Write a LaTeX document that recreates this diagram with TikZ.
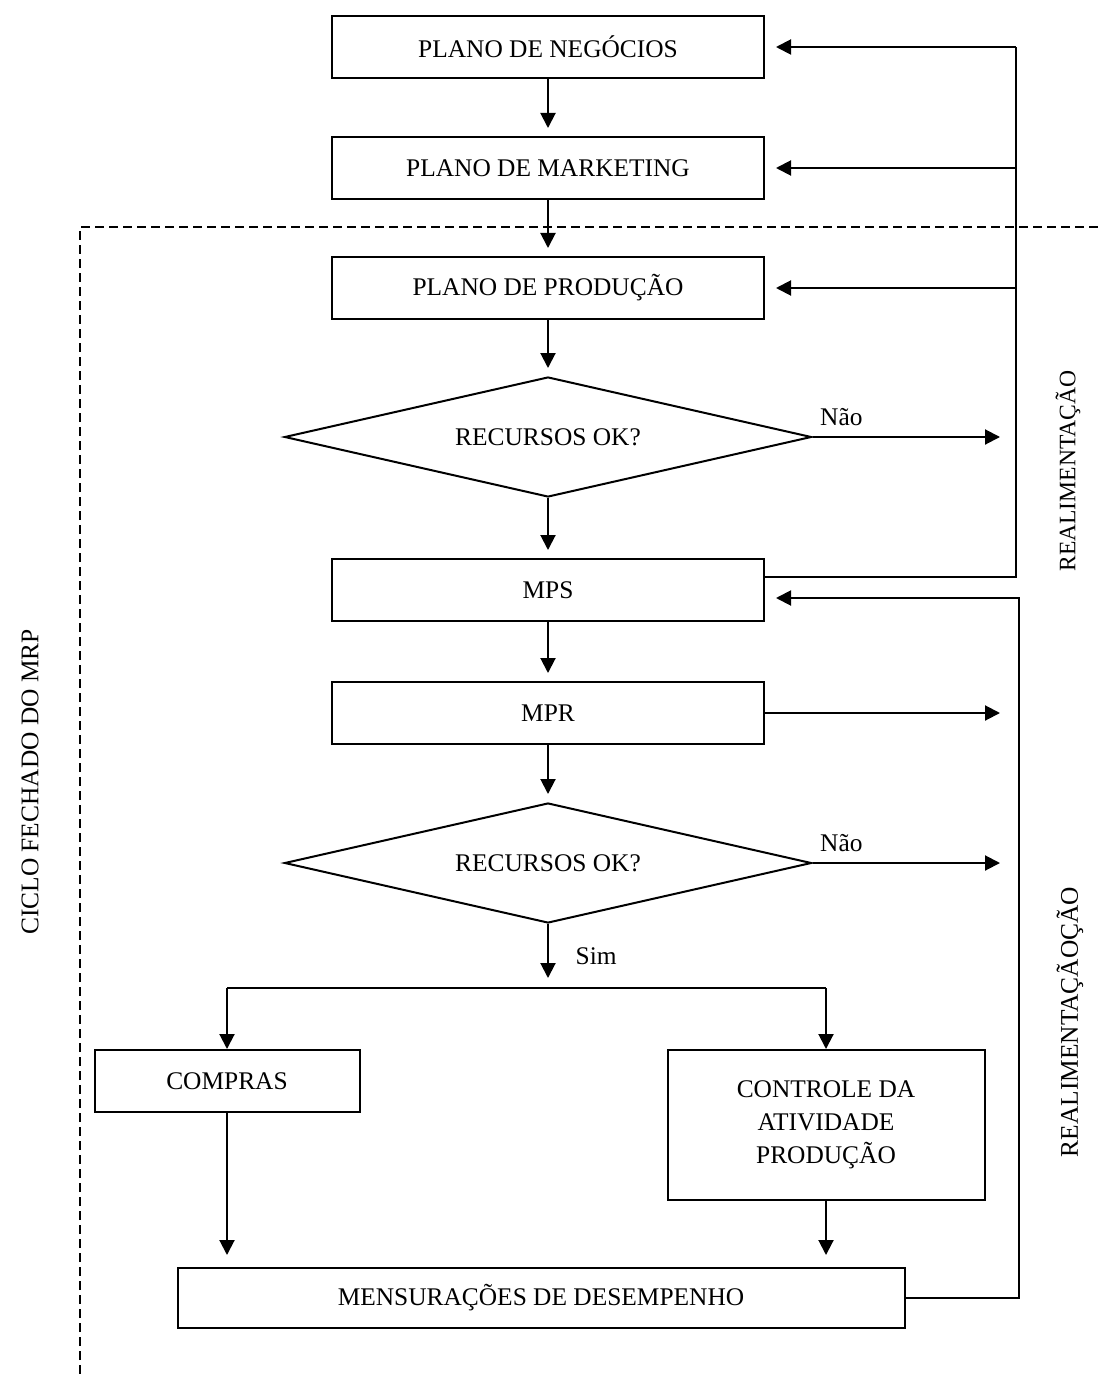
\documentclass[tikz,border=0pt]{standalone}
\usepackage{fontspec}
\setmainfont{Liberation Serif}
\usetikzlibrary{shapes.geometric,arrows.meta}

\begin{document}
\begin{tikzpicture}[x=0.5pt,y=-0.5pt, font=\fontsize{12.7}{16.5}\selectfont] % coordenadas em pixels da figura
\tikzstyle{mybox} = [draw, line width=1pt, minimum width=216pt, minimum height=31pt, inner sep=0pt, align=center] % caixa de etapa
\tikzstyle{mydiamond} = [draw, line width=1pt, diamond, aspect=4.4, minimum width=263.5pt, minimum height=60pt, inner sep=0pt] % decisao
\tikzstyle{myarrow} = [line width=1pt, -{Triangle[length=7.5pt, width=7.5pt]}, shorten >=4pt] % seta
\tikzstyle{myline} = [line width=1pt] % linha simples
\tikzstyle{mydash} = [line width=0.75pt, dash pattern=on 4.5pt off 2.5pt] % limite do ciclo
\useasboundingbox (0,0) rectangle (1101,1374);
% etapas principais
\node[mybox] (negocios) at (548,47) {PLANO DE NEGÓCIOS};
\node[mybox] (marketing) at (548,168) {PLANO DE MARKETING};
\node[mybox] (producao) at (548,288) {PLANO DE PRODUÇÃO};
\node[mydiamond] (rec1) at (548,437) {RECURSOS OK?};
\node[mybox] (mps) at (548,590) {MPS};
\node[mybox] (mpr) at (548,713) {MPR};
\node[mydiamond] (rec2) at (548,863) {RECURSOS OK?};
\node[mybox, minimum width=132.5pt] (compras) at (227,1081) {COMPRAS};
\node[mybox, minimum width=158.5pt, minimum height=75pt] (controle) at (826,1125) {CONTROLE DA\\ATIVIDADE\\PRODUÇÃO};
\node[mybox, minimum width=363.5pt, minimum height=30pt] (mensur) at (541,1298) {MENSURAÇÕES DE DESEMPENHO};
% textos laterais
\node[rotate=90] (ciclo) at (30,782) {CICLO FECHADO DO MRP};
\node[rotate=90, font=\fontsize{11.8}{14}\selectfont] (real1) at (1068,471) {REALIMENTAÇÃO};
\node[rotate=90] (real2) at (1070,1022) {REALIMENTAÇÃOÇÃO};
% pontos auxiliares
\coordinate (r1) at (1016,47);
\coordinate (r2) at (1016,168);
\coordinate (r3) at (1016,288);
\coordinate (r4) at (1019,598);
\coordinate (n1) at (1000,437);
\coordinate (n2) at (1000,713);
\coordinate (n3) at (1000,863);
\coordinate (sm) at (548,988);
\coordinate (sl) at (227,988);
\coordinate (sr) at (826,988);
% fluxo vertical
\draw[myarrow] (negocios) -- (marketing);
\draw[myarrow] (marketing) -- (producao);
\draw[myarrow] (producao) -- (rec1);
\draw[myarrow] (rec1) -- (mps);
\draw[myarrow] (mps) -- (mpr);
\draw[myarrow] (mpr) -- (rec2);
\draw[myarrow, shorten >=5pt] (rec2) -- node[right, xshift=10pt] (sim) {Sim} (sm);
\draw[myline] (sl) -- (sr);
\draw[myarrow, shorten >=0pt] (sl) -- (compras);
\draw[myarrow, shorten >=0pt] (sr) -- (controle);
\draw[myarrow, shorten >=6pt] (compras) -- (compras |- mensur.north);
\draw[myarrow, shorten >=6pt] (controle) -- (controle |- mensur.north);
% saidas Nao
\draw[myarrow, shorten >=0pt] (rec1.east) -- node[pos=0, above right, yshift=2pt] (nao1) {Não} (n1);
\draw[myarrow, shorten >=0pt] (mpr.east) -- (n2);
\draw[myarrow, shorten >=0pt] (rec2.east) -- node[pos=0, above right, yshift=2pt] (nao2) {Não} (n3);
% realimentacao
\draw[myline] ([yshift=6.5pt]mps.east) -| (r1);
\draw[myarrow, shorten >=5.5pt] (r1) -- (negocios.east);
\draw[myarrow, shorten >=5.5pt] (r2) -- (marketing.east);
\draw[myarrow, shorten >=5.5pt] (r3) -- (producao.east);
\draw[myarrow, shorten >=5.5pt] (mensur.east) -| (r4) -- ([yshift=-4pt]mps.east);
% limite do ciclo fechado
\draw[mydash] (80,1374) -- (80,227) -- (1101,227);
\end{tikzpicture}
\end{document}
